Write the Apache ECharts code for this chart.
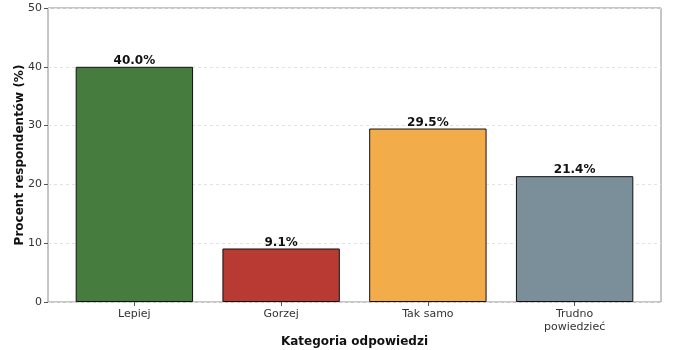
<!DOCTYPE html>
<html><head><meta charset="utf-8">
<script src="https://cdn.jsdelivr.net/npm/echarts@6/dist/echarts.min.js"></script>
<style>html,body{margin:0;padding:0;background:#fff}#c{width:680px;height:350px}</style>
</head><body><div id="c"></div>
<script>
const categories = ['Lepiej', 'Gorzej', 'Tak samo', 'Trudno\npowiedzieć'];
const values = [40.0, 9.1, 29.5, 21.4];
const colors = ['#467C3E', '#B83A33', '#F2AC4A', '#7B8F9A'];
const yTicks = [0, 10, 20, 30, 40, 50];

const font = 'DejaVu Sans';
const chart = echarts.init(document.getElementById('c'));
chart.setOption({
  animation: false,
  backgroundColor: '#fff',
  textStyle: { fontFamily: font },
  grid: [
    { left: 48, right: 19, top: 8, bottom: 48, show: true, borderColor: '#8c8c8c', borderWidth: 1, backgroundColor: 'transparent', containLabel: false, outerBoundsMode: 'none' },
    { left: 61, right: 32, top: 8, bottom: 48, containLabel: false, outerBoundsMode: 'none' }
  ],
  xAxis: [
    { gridIndex: 0, type: 'value', min: 0, max: 1, show: false, splitLine: { show: false } },
    { gridIndex: 1, type: 'category', data: categories,
      name: 'Kategoria odpowiedzi', nameLocation: 'middle', nameGap: 34, nameMoveOverlap: false,
      nameTextStyle: { fontFamily: font, fontWeight: 'bold', fontSize: 12, color: '#111', verticalAlign: 'top' },
      axisLine: { show: false },
      axisTick: { show: true, alignWithLabel: true, length: 4, lineStyle: { color: '#555' } },
      axisLabel: { fontFamily: font, fontSize: 11, color: '#333', margin: 6, lineHeight: 13 } }
  ],
  yAxis: [
    { gridIndex: 0, type: 'value', min: 0, max: 50, interval: 10,
      name: 'Procent respondentów (%)', nameLocation: 'middle', nameGap: 22, nameMoveOverlap: false,
      nameTextStyle: { fontFamily: font, fontWeight: 'bold', fontSize: 12, color: '#111' },
      axisLine: { show: false },
      axisTick: { show: true, length: 4, lineStyle: { color: '#555' } },
      axisLabel: { fontFamily: font, fontSize: 11, color: '#333', margin: 6, formatter: v => yTicks.includes(v) ? String(v) : '' },
      splitLine: { show: true, lineStyle: { color: '#e2e2e2', type: [3, 3], width: 1 } } },
    { gridIndex: 1, type: 'value', min: 0, max: 50, interval: 10, show: false, splitLine: { show: false } }
  ],
  series: [{
    type: 'bar', xAxisIndex: 1, yAxisIndex: 1, barWidth: '80%',
    data: values.map((v, i) => ({ value: v, itemStyle: { color: colors[i] } })),
    itemStyle: { borderColor: '#111', borderWidth: 1 },
    label: { show: true, position: 'top', distance: 0, fontFamily: font, fontWeight: 'bold', fontSize: 12, color: '#111',
      formatter: p => p.value.toFixed(1) + '%' }
  }]
});
</script></body></html>
